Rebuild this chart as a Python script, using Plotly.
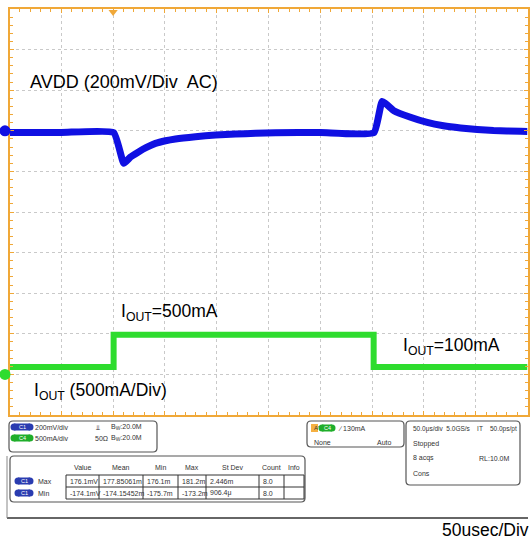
import plotly.graph_objects as go

W, H = 532, 545

# ---------------- data (read from the scope capture) ----------------
# AVDD, AC coupled, mV  (time in microseconds)
t_avdd = [0, 50, 100.5, 110.3, 116.8, 124.5, 132.2, 140.9, 150.6, 160.2, 179.5,
          198.9, 218.2, 237.5, 256.8, 300.2, 351.7, 359.8, 371.0, 387.1, 403.2,
          418.9, 435.4, 451.5, 467.2, 493.3, 500]
v_avdd = [-8.4, -8.4, -8.4, -160, -129, -104, -82, -62, -49, -40, -29,
          -21, -16, -12, -9.4, -8.5, -9.4, 145, 99, 66.5, 41,
          24.6, 13.8, 6.4, 1.5, -2.5, -3.4]

# IOUT, mA
t_iout = [0, 100.5, 100.5, 351.5, 351.5, 500]
i_iout = [92, 92, 487, 487, 92, 92]

trigger_time = [100]

# measurement table
meas_headers = ["Value", "Mean", "Min", "Max", "St Dev", "Count", "Info"]
meas_rows = ["Max", "Min"]
meas_values = [
    ["176.1mV", "177.85061m", "176.1m", "181.2m", "2.446m", "8.0", ""],
    ["-174.1mV", "-174.15452m", "-175.7m", "-173.2m", "906.4\u03bc", "8.0", ""],
]

BLUE = "#1010e2"
GREEN = "#2edc2e"
ORANGE = "#f0a838"
GRID = "#c9c9c9"
FONT = "Liberation Sans, Arial, sans-serif"

# plot area in pixels
PX0, PX1, PY0, PY1 = 9.5, 527.5, 9.0, 415.0


def px(x):
    return x / W


def py(y):
    return 1 - y / H


fig = go.Figure()

fig.add_trace(go.Scatter(x=t_avdd, y=v_avdd, mode="lines",
                         line=dict(color=BLUE, width=7, shape="spline", smoothing=0.4),
                         xaxis="x", yaxis="y", showlegend=False, hoverinfo="skip"))
fig.add_trace(go.Scatter(x=t_iout, y=i_iout, mode="lines",
                         line=dict(color=GREEN, width=6),
                         xaxis="x", yaxis="y2", showlegend=False, hoverinfo="skip"))

# trigger marker
fig.add_trace(go.Scatter(x=trigger_time, y=[585], mode="markers", cliponaxis=False,
                         marker=dict(color=ORANGE, size=8, symbol="triangle-down"),
                         yaxis="y", showlegend=False, hoverinfo="skip"))

axis_common = dict(showline=True, linecolor=ORANGE, linewidth=2, mirror="ticks",
                   ticks="inside", ticklen=4, tickcolor=ORANGE, tickwidth=1,
                   showticklabels=False, zeroline=False,
                   showgrid=True, gridcolor=GRID, griddash="dot", gridwidth=1)

fig.update_layout(
    width=W, height=H, margin=dict(l=0, r=0, t=0, b=0),
    paper_bgcolor="white", plot_bgcolor="white",
    xaxis=dict(domain=[px(PX0), px(PX1)], range=[0, 500], dtick=50, tick0=0,
               minor=dict(dtick=10, ticks="inside", ticklen=3, tickcolor=ORANGE, showgrid=False),
               **axis_common),
    yaxis=dict(domain=[py(PY1), py(PY0)], range=[-1400, 600], dtick=200, tick0=0,
               minor=dict(dtick=40, ticks="inside", ticklen=3, tickcolor=ORANGE, showgrid=False),
               **axis_common),
    yaxis2=dict(overlaying="y", range=[-500, 4500], visible=False),
    font=dict(family=FONT),
)

ann = []


def text(x, y, s, size, color="black", xanchor="left", yanchor="middle"):
    if not s:
        return
    ann.append(dict(x=px(x), y=py(y), xref="paper", yref="paper", text=s,
                    showarrow=False, xanchor=xanchor, yanchor=yanchor,
                    font=dict(size=size, color=color, family=FONT)))


# in-graticule labels
text(28, 82, "AVDD (200mV/Div\u00a0 AC)", 18)
text(119, 312, "I<sub>OUT</sub>=500mA", 17.5)
text(401, 346, "I<sub>OUT</sub>=100mA", 17.5)
text(32, 391, "I<sub>OUT</sub> (500mA/Div)", 17.5)
text(531, 530, "50usec/Div", 17.5, xanchor="right")

shapes = []

# channel ground markers (anchored at each channel's zero level on the left edge)
for yref, col in (("y", BLUE), ("y2", GREEN)):
    shapes.append(dict(type="circle", xref="paper", yref=yref,
                       ysizemode="pixel", yanchor=0,
                       x0=px(-0.5), x1=px(10.5), y0=-5.5, y1=5.5,
                       fillcolor=col, line=dict(width=0), layer="above"))


def rrect(x0, y0, x1, y1, r=4, color="#555", width=1.2, fill="white"):
    rx, ry = r / W, r / H
    X0, X1 = px(x0), px(x1)
    Y0, Y1 = py(y0), py(y1)
    path = (f"M {X0+rx},{Y0} L {X1-rx},{Y0} Q {X1},{Y0} {X1},{Y0-ry} "
            f"L {X1},{Y1+ry} Q {X1},{Y1} {X1-rx},{Y1} L {X0+rx},{Y1} "
            f"Q {X0},{Y1} {X0},{Y1+ry} L {X0},{Y0-ry} Q {X0},{Y0} {X0+rx},{Y0} Z")
    shapes.append(dict(type="path", path=path, xref="paper", yref="paper",
                       line=dict(color=color, width=width), fillcolor=fill, layer="below"))


def line(x0, y0, x1, y1, color="#444", width=1):
    shapes.append(dict(type="line", x0=px(x0), y0=py(y0), x1=px(x1), y1=py(y1),
                       xref="paper", yref="paper", line=dict(color=color, width=width)))


def badge(xc, yc, label, color, w=16, h=7):
    shapes.append(dict(type="rect", x0=px(xc - w / 2), x1=px(xc + w / 2),
                       y0=py(yc + h / 2), y1=py(yc - h / 2), xref="paper", yref="paper",
                       line=dict(width=0), fillcolor=color, layer="above"))
    shapes.append(dict(type="circle", x0=px(xc - w / 2 - h / 2), x1=px(xc - w / 2 + h / 2),
                       y0=py(yc + h / 2), y1=py(yc - h / 2), xref="paper", yref="paper",
                       line=dict(width=0), fillcolor=color, layer="above"))
    shapes.append(dict(type="circle", x0=px(xc + w / 2 - h / 2), x1=px(xc + w / 2 + h / 2),
                       y0=py(yc + h / 2), y1=py(yc - h / 2), xref="paper", yref="paper",
                       line=dict(width=0), fillcolor=color, layer="above"))
    text(xc, yc, label, 5.5, color="white", xanchor="center")


SMALL = 7
DARK = "#333333"

# outer frame of the badge area
line(7, 518, 528, 518, color="#666", width=2)
line(7, 456, 7, 518, color="#888", width=1)

# channel box
rrect(9, 421, 157, 452)
badge(22, 427, "C1", "#2a3cb0")
badge(22, 438, "C4", "#1fae2a")
text(33, 427, "200mV/div", SMALL, DARK)
text(33, 438, "500mA/div", SMALL, DARK)
text(94, 427, "\u2aeb", SMALL, DARK)
text(93, 438, "50\u03a9", SMALL, DARK)
text(109, 427, "B<sub>W</sub>:20.0M", SMALL, DARK)
text(109, 438, "B<sub>W</sub>:20.0M", SMALL, DARK)

# trigger box
rrect(307, 421, 404, 447)
shapes.append(dict(type="rect", x0=px(311), x1=px(318), y0=py(432), y1=py(424),
                   xref="paper", yref="paper", fillcolor="#f5b041", line=dict(width=0)))
text(312, 428, "A'", 6, DARK)
badge(327, 428, "C4", "#1fae2a", w=10)
text(336, 428, "\u2215 130mA", SMALL, DARK)
text(312, 442, "None", SMALL, DARK)
text(394, 442, "Auto", SMALL, DARK, xanchor="right")

# timing box
rrect(406, 421, 520, 485)
text(411, 429, "50.0\u03bcs/div  5.0GS/s    IT    50.0ps/pt", 6.5, DARK)
text(411, 444, "Stopped", SMALL, DARK)
text(411, 458, "8 acqs", SMALL, DARK)
text(512, 458, "RL:10.0M", SMALL, DARK, xanchor="right")
text(411, 473, "Cons", SMALL, DARK)

# measurement box
rrect(10, 456, 305, 502)
col_edges = [66, 99, 143, 178, 206, 259, 284, 304]
row_edges = [475, 487, 499]
for yy in row_edges:
    line(col_edges[0], yy, col_edges[-1], yy, color="#333", width=1)
for xx in col_edges:
    line(xx, row_edges[0], xx, row_edges[-1], color="#333", width=1)
for j, h in enumerate(meas_headers):
    text((col_edges[j] + col_edges[j + 1]) / 2, 467, h, SMALL, DARK, xanchor="center")
for i, rname in enumerate(meas_rows):
    yc = (row_edges[i] + row_edges[i + 1]) / 2
    badge(24, yc, "C1", "#2a3cb0", w=12)
    text(36, yc, rname, SMALL, DARK)
    for j, v in enumerate(meas_values[i]):
        text(col_edges[j] + 2, yc, v, SMALL, DARK)

fig.update_layout(annotations=ann, shapes=shapes)
fig.write_html("out.html", config={"displayModeBar": False},
               post_script="document.body.style.margin='0';document.body.style.overflow='hidden';")
